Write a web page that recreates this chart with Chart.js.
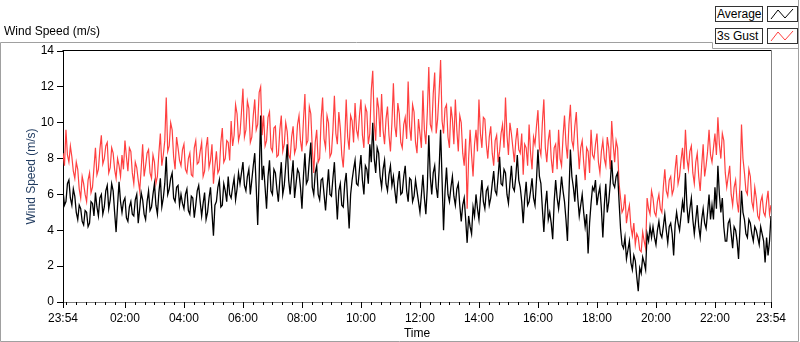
<!DOCTYPE html>
<html>
<head>
<meta charset="utf-8">
<title>Wind Speed</title>
<script src="https://cdn.jsdelivr.net/npm/chart.js@4.4.0/dist/chart.umd.min.js"></script>
<style>
  html, body { margin: 0; padding: 0; background: #fff; }
  #wrap { position: relative; width: 800px; height: 342px; font-family: "Liberation Sans", Arial, sans-serif; font-size: 12px; color: #000; }
  #chart { position: absolute; left: 0; top: 0; }
  #graphTitle { position: absolute; left: 4px; top: 24px; line-height: 14px; }
  .legName { position: absolute; left: 715px; width: 45px; height: 14px; line-height: 14px; border: 1px solid #333; background: #fff; padding-left: 1px; box-sizing: content-box; }
  .legSwatch { position: absolute; left: 767px; width: 29px; height: 14px; border: 1px solid #333; background: #fff; }
</style>
</head>
<body>
<div id="wrap">
  <canvas id="chart" width="800" height="342"></canvas>
  <div id="graphTitle">Wind Speed (m/s)</div>
  <div class="legName" style="top:6px">Average</div>
  <div class="legSwatch" style="top:6px"><svg width="29" height="14"><polyline points="3,12 10,3 17,11 25,2" fill="none" stroke="#000" stroke-width="1"/></svg></div>
  <div class="legName" style="top:28px">3s Gust</div>
  <div class="legSwatch" style="top:28px"><svg width="29" height="14"><polyline points="3,12 10,3 17,11 25,2" fill="none" stroke="#ff4040" stroke-width="1"/></svg></div>
</div>
<script>
// samples from 23:54 to 23:54 the next day, evenly spaced (about every 3 minutes)
const avgSpeed = [
  6.2, 5.4, 5.6, 6.6, 6.8, 5.8, 5.4, 6.3, 5.9, 5.0, 4.6, 5.4, 5.2, 4.5, 4.3, 5.1, 5.0, 4.2, 4.4, 5.6, 5.5, 4.8, 6.1, 5.3, 4.8, 5.8, 6.0, 4.9, 5.3, 6.2, 6.5, 5.2, 5.7, 6.6, 6.2, 5.0, 3.9, 5.4, 6.7, 5.6,
  5.0, 5.6, 5.8, 4.7, 4.5, 5.3, 5.6, 4.9, 4.8, 5.7, 6.0, 4.4, 5.2, 6.1, 5.7, 4.9, 4.6, 5.6, 6.2, 5.1, 5.3, 6.0, 6.6, 5.4, 4.9, 6.1, 6.9, 5.3, 5.8, 6.6, 8.1, 6.0, 6.3, 6.9, 7.2, 5.8, 5.6, 6.4, 6.5, 5.4,
  6.0, 5.5, 5.2, 6.0, 6.3, 5.1, 4.9, 5.9, 5.8, 4.7, 5.4, 6.2, 6.5, 5.6, 4.8, 5.5, 6.1, 4.6, 5.0, 5.8, 6.4, 5.0, 3.7, 5.4, 5.6, 6.4, 6.8, 5.3, 5.4, 6.6, 6.2, 5.6, 7.0, 6.0, 5.8, 6.4, 6.9, 5.7, 6.3, 7.2,
  6.6, 7.2, 7.8, 6.5, 6.2, 7.0, 7.4, 6.0, 6.8, 7.6, 8.3, 6.4, 4.3, 7.0, 10.4, 6.8, 7.6, 6.4, 5.2, 7.0, 7.9, 6.2, 6.0, 7.4, 7.2, 6.3, 5.6, 6.8, 7.8, 6.0, 6.5, 7.6, 8.8, 6.8, 6.0, 7.0, 7.9, 5.8, 6.6, 7.4,
  7.2, 6.4, 5.2, 7.0, 8.3, 6.6, 6.8, 7.9, 8.9, 6.4, 6.0, 7.2, 7.6, 6.0, 5.7, 6.8, 6.9, 6.0, 5.1, 6.3, 7.4, 6.0, 5.9, 6.9, 7.8, 6.1, 4.6, 6.2, 6.6, 5.4, 5.3, 6.6, 7.2, 5.6, 4.1, 6.0, 6.8, 7.4, 7.9, 6.6,
  6.5, 7.4, 8.2, 6.8, 6.0, 7.6, 7.4, 6.6, 8.8, 7.8, 10.0, 8.0, 7.2, 8.6, 8.3, 7.0, 6.4, 7.4, 7.9, 6.6, 6.2, 7.1, 7.6, 6.5, 7.0, 6.2, 5.5, 6.7, 7.3, 6.0, 6.1, 7.0, 7.6, 6.2, 5.6, 6.9, 6.8, 5.6, 5.9, 6.8,
  6.2, 5.6, 5.0, 6.0, 7.1, 5.8, 4.9, 6.4, 9.3, 7.0, 6.0, 7.2, 7.6, 6.4, 5.8, 7.4, 9.6, 6.8, 4.0, 6.2, 7.5, 6.0, 5.6, 6.4, 7.0, 5.9, 5.4, 6.3, 6.6, 5.4, 4.5, 5.4, 5.8, 4.6, 3.3, 4.8, 4.2, 3.8, 5.3, 4.8,
  6.0, 5.2, 4.6, 5.8, 6.8, 5.6, 5.2, 6.2, 6.4, 5.4, 5.8, 6.6, 7.3, 6.2, 6.0, 7.0, 8.1, 6.6, 6.5, 7.4, 7.2, 6.0, 5.5, 6.6, 7.6, 6.4, 6.2, 7.0, 8.2, 6.8, 6.4, 5.6, 4.4, 5.8, 6.7, 5.4, 5.6, 6.2, 6.9, 5.8,
  5.4, 6.8, 8.5, 7.0, 6.6, 5.2, 3.9, 5.4, 6.2, 4.6, 5.0, 4.4, 3.5, 5.6, 6.8, 5.8, 5.2, 6.0, 7.0, 6.2, 5.6, 4.6, 3.4, 6.0, 8.5, 7.0, 6.4, 5.6, 7.1, 5.8, 4.8, 5.4, 6.0, 5.0, 4.2, 4.9, 2.7, 4.4, 5.5, 6.4,
  6.2, 6.8, 5.4, 6.0, 6.4, 5.2, 3.6, 5.4, 6.6, 5.0, 5.6, 6.6, 7.9, 6.6, 6.4, 7.0, 7.2, 5.6, 4.1, 3.2, 3.0, 3.6, 2.4, 2.9, 3.4, 2.2, 1.8, 2.6, 2.3, 1.4, 0.6, 1.9, 1.6, 2.5, 2.2, 1.8, 3.8, 3.4, 4.2, 3.6,
  4.2, 3.6, 3.2, 4.0, 4.5, 3.8, 3.6, 4.2, 4.9, 4.0, 3.3, 4.2, 4.4, 3.8, 2.6, 4.3, 5.0, 4.4, 4.0, 4.8, 5.6, 5.0, 7.2, 5.4, 4.4, 5.2, 5.8, 4.6, 3.8, 4.6, 5.4, 4.2, 3.6, 4.6, 5.2, 4.4, 4.1, 5.0, 6.0, 4.6,
  5.4, 4.6, 6.4, 5.2, 7.6, 6.0, 5.0, 5.8, 4.2, 3.4, 3.4, 4.4, 4.6, 3.8, 3.0, 4.2, 4.0, 3.4, 2.4, 4.2, 6.2, 5.0, 4.6, 3.8, 3.6, 4.6, 4.4, 3.8, 3.4, 4.2, 4.0, 3.6, 3.2, 4.2, 3.8, 3.4, 2.2, 3.6, 2.6, 3.4, 4.8
];

const gustSpeed = [
  8.3, 7.6, 9.6, 8.2, 7.8, 8.7, 8.1, 7.3, 6.9, 7.8, 7.4, 6.3, 5.8, 7.0, 6.6, 6.0, 5.6, 6.8, 7.2, 6.1, 6.4, 7.5, 8.6, 7.1, 7.4, 8.5, 9.3, 7.7, 8.0, 8.7, 8.9, 7.2, 7.5, 8.6, 8.3, 7.4, 6.9, 8.0, 7.6, 7.0,
  8.2, 7.4, 9.0, 8.1, 7.3, 8.6, 8.4, 7.2, 6.6, 7.8, 7.5, 6.8, 6.2, 7.4, 8.8, 7.0, 7.6, 8.3, 8.5, 7.2, 6.9, 8.2, 7.8, 6.6, 7.0, 8.3, 9.4, 7.6, 8.2, 9.0, 11.4, 8.4, 8.7, 10.0, 9.6, 8.1, 7.4, 9.2, 8.6, 7.9,
  7.6, 8.5, 8.8, 7.4, 7.2, 8.0, 8.3, 7.1, 7.0, 8.6, 9.0, 7.7, 7.8, 8.4, 8.9, 7.0, 7.3, 8.6, 9.2, 7.5, 7.9, 8.8, 6.6, 7.6, 8.4, 7.2, 7.4, 8.9, 9.7, 7.8, 8.0, 9.0, 8.9, 7.9, 10.1, 8.7, 9.3, 11.0, 10.5, 9.0,
  9.4, 10.6, 11.9, 9.2, 9.6, 11.2, 10.8, 8.9, 9.2, 10.4, 11.3, 9.6, 9.9, 11.7, 12.0, 9.3, 10.4, 8.7, 9.0, 10.3, 10.6, 8.6, 8.4, 9.7, 9.8, 8.1, 8.2, 9.6, 10.4, 8.4, 8.8, 10.0, 9.5, 8.2, 8.0, 9.2, 9.8, 8.3, 8.6, 9.9,
  10.4, 9.0, 8.4, 10.1, 11.6, 8.8, 9.0, 10.9, 10.5, 8.6, 7.2, 8.9, 9.6, 7.8, 8.0, 10.2, 11.4, 9.1, 8.6, 10.4, 10.0, 8.1, 8.3, 9.6, 11.5, 9.4, 8.8, 10.6, 9.7, 8.2, 7.5, 9.0, 11.3, 9.2, 8.5, 10.4, 10.1, 8.9, 11.1, 9.6,
  9.2, 10.4, 11.3, 9.3, 8.6, 10.9, 10.6, 8.8, 9.4, 11.8, 12.9, 10.0, 9.0, 11.4, 10.8, 9.2, 11.6, 9.6, 8.8, 10.2, 10.9, 9.3, 8.4, 10.0, 12.2, 9.8, 9.2, 11.1, 10.5, 8.9, 8.6, 9.9, 10.3, 9.1, 12.3, 9.8, 9.0, 11.0, 10.6, 8.9,
  8.3, 10.2, 9.4, 8.6, 11.8, 9.6, 8.8, 10.6, 13.1, 9.9, 9.6, 11.6, 12.8, 9.4, 10.2, 11.7, 13.5, 10.1, 9.4, 10.8, 11.0, 9.2, 8.6, 10.9, 10.2, 8.8, 11.3, 9.6, 8.4, 10.4, 10.0, 8.3, 7.6, 9.1, 5.2, 8.0, 9.6, 8.2, 7.0, 8.8,
  9.6, 8.4, 11.3, 9.4, 8.6, 10.3, 10.2, 8.8, 8.0, 9.2, 9.8, 8.3, 7.6, 9.0, 9.3, 7.8, 8.4, 9.4, 9.9, 8.6, 11.4, 9.3, 8.2, 10.0, 9.4, 8.6, 7.8, 9.0, 9.7, 8.5, 8.3, 9.4, 7.1, 8.8, 8.6, 7.6, 9.9, 8.3, 7.4, 9.2,
  8.8, 9.8, 10.7, 8.6, 8.2, 10.0, 11.3, 8.6, 7.8, 9.0, 9.6, 8.0, 7.2, 8.6, 8.8, 7.4, 9.6, 8.0, 7.6, 9.2, 10.4, 8.8, 8.0, 9.9, 11.0, 9.0, 8.6, 9.8, 10.6, 8.8, 7.4, 8.6, 9.0, 7.8, 6.8, 8.6, 8.4, 7.2, 9.6, 8.2,
  8.0, 8.8, 9.4, 7.8, 7.2, 8.4, 9.0, 8.0, 7.6, 9.2, 8.6, 7.4, 10.1, 8.8, 7.8, 9.0, 8.6, 6.6, 5.8, 5.0, 5.2, 6.0, 4.4, 5.0, 5.4, 4.2, 3.7, 4.4, 3.2, 3.8, 3.6, 2.9, 2.8, 3.9, 3.4, 3.0, 5.8, 5.2, 4.9, 6.2,
  5.8, 5.0, 4.8, 5.6, 6.0, 5.2, 5.0, 6.4, 7.4, 6.2, 5.9, 6.8, 7.0, 6.0, 6.3, 7.4, 8.2, 6.6, 7.0, 7.9, 8.6, 7.4, 9.6, 8.0, 7.4, 8.4, 8.7, 7.2, 6.6, 7.8, 8.3, 7.0, 6.2, 7.6, 8.8, 7.0, 7.6, 8.4, 9.6, 8.2,
  7.8, 8.6, 9.4, 8.2, 10.3, 8.8, 8.0, 9.4, 9.0, 7.2, 6.4, 7.0, 7.6, 6.0, 5.4, 6.4, 6.8, 5.6, 5.0, 6.6, 9.9, 8.0, 7.2, 6.2, 6.0, 7.4, 7.0, 5.6, 5.2, 6.4, 5.8, 4.8, 4.6, 5.6, 5.9, 5.0, 4.8, 5.6, 6.2, 4.9, 5.4
];

// x ticks, in minutes after 23:54
const tickMinutes = [0, 126, 246, 366, 486, 606, 726, 846, 966, 1086, 1206, 1326, 1440];
const tickLabels = ["23:54", "02:00", "04:00", "06:00", "08:00", "10:00", "12:00",
  "14:00", "16:00", "18:00", "20:00", "22:00", "23:54"];

const spanMinutes = 1440;
const toPoints = arr => arr.map((v, i) => ({ x: i * spanMinutes / (arr.length - 1), y: v }));

// LabVIEW style frame, plot borders and major/minor time ticks
const framePlugin = {
  id: "frame",
  afterDraw(chart) {
    const { ctx, chartArea: a, scales: { x } } = chart;
    ctx.save();
    ctx.lineWidth = 1;

    ctx.strokeStyle = "#a0a0a0";
    ctx.beginPath();
    ctx.moveTo(0.5, 341.5);
    ctx.lineTo(0.5, 42.5);
    ctx.lineTo(712.5, 42.5);
    ctx.lineTo(712.5, 48.5);
    ctx.lineTo(798.5, 48.5);
    ctx.moveTo(798.5, 0);
    ctx.lineTo(798.5, 341.5);
    ctx.lineTo(0.5, 341.5);
    ctx.stroke();

    ctx.strokeStyle = "#000";
    ctx.beginPath();
    ctx.moveTo(a.left - 0.5, a.top - 0.5);
    ctx.lineTo(a.right + 0.5, a.top - 0.5);
    ctx.stroke();

    ctx.strokeStyle = "#808080";
    ctx.beginPath();
    ctx.moveTo(Math.round(a.right) + 0.5, a.top);
    ctx.lineTo(Math.round(a.right) + 0.5, a.bottom);
    ctx.stroke();

    ctx.strokeStyle = "#000";
    ctx.beginPath();
    for (let m = 6; m < 1440; m += 20) {
      const px = Math.round(x.getPixelForValue(m)) + 0.5;
      ctx.moveTo(px, a.bottom);
      ctx.lineTo(px, a.bottom + 3);
    }
    tickMinutes.forEach(m => {
      const px = Math.round(x.getPixelForValue(m)) + 0.5;
      ctx.moveTo(px, a.bottom);
      ctx.lineTo(px, a.bottom + 6);
    });
    ctx.stroke();
    ctx.restore();
  }
};

const font = { family: "'Liberation Sans', Arial, sans-serif", size: 12 };

new Chart(document.getElementById("chart"), {
  type: "line",
  data: {
    datasets: [
      {
        label: "Average",
        data: toPoints(avgSpeed),
        borderColor: "#000000",
        borderWidth: 1.3,
        pointRadius: 0,
        tension: 0,
        fill: false
      },
      {
        label: "3s Gust",
        data: toPoints(gustSpeed),
        borderColor: "#ff4040",
        borderWidth: 1.2,
        pointRadius: 0,
        tension: 0,
        fill: false
      }
    ]
  },
  options: {
    responsive: false,
    animation: false,
    events: [],
    layout: { padding: { left: 0, right: 29, top: 51, bottom: 0 } },
    plugins: { legend: { display: false }, tooltip: { enabled: false } },
    scales: {
      x: {
        type: "linear",
        min: 0,
        max: spanMinutes,
        afterFit: s => { s.height = 40; },
        afterBuildTicks: s => { s.ticks = tickMinutes.map(v => ({ value: v })); },
        grid: { drawOnChartArea: false, drawTicks: false },
        border: { display: true, color: "#808080" },
        ticks: {
          autoSkip: false,
          maxRotation: 0,
          padding: 9,
          color: "#000",
          font: font,
          callback: (v, i) => tickLabels[i]
        },
        title: { display: true, text: "Time", color: "#000", font: font, padding: { top: 0, bottom: 1 } }
      },
      y: {
        min: 0,
        max: 14,
        afterFit: s => { s.width = 63; },
        grid: { drawOnChartArea: false, tickLength: 6, color: "#000" },
        border: { display: true, color: "#000" },
        ticks: { stepSize: 2, padding: 3, color: "#000", font: font },
        title: { display: true, text: "Wind Speed (m/s)", color: "#1f3a5f", font: font, padding: { top: 24, bottom: 0 } }
      }
    }
  },
  plugins: [framePlugin]
});
</script>
</body>
</html>
